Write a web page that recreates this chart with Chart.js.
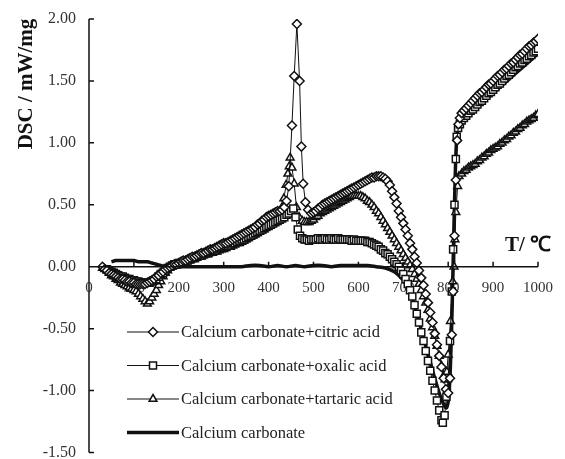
<!DOCTYPE html>
<html>
<head>
<meta charset="utf-8">
<script src="https://cdn.jsdelivr.net/npm/chart.js@4.4.0/dist/chart.umd.min.js"></script>
<style>
  body { margin: 0; background: #fff; }
  #wrap { width: 565px; height: 459px; }
</style>
</head>
<body>
<div id="wrap"><canvas id="dsc" width="565" height="459"></canvas></div>
<script>
// Valores: [T em °C, DSC em mW/mg]
const citric = [[30,0.00],[35,-0.02],[40,-0.03],[45,-0.05],[50,-0.06],[55,-0.07],[60,-0.08],[65,-0.09],[70,-0.10],[75,-0.10],[80,-0.11],[85,-0.12],[90,-0.12],[95,-0.13],[100,-0.13],[105,-0.14],[110,-0.14],[115,-0.14],[120,-0.14],[125,-0.14],[130,-0.13],[135,-0.12],[140,-0.11],[145,-0.10],[150,-0.08],[155,-0.07],[160,-0.05],[165,-0.04],[170,-0.02],[175,-0.01],[180,0.00],[185,0.01],[190,0.02],[195,0.02],[200,0.03],[205,0.04],[210,0.05],[215,0.05],[220,0.06],[225,0.07],[230,0.08],[235,0.08],[240,0.09],[245,0.10],[250,0.11],[255,0.11],[260,0.12],[265,0.13],[270,0.14],[275,0.14],[280,0.15],[285,0.16],[290,0.17],[295,0.18],[300,0.19],[305,0.19],[310,0.20],[315,0.21],[320,0.22],[325,0.23],[330,0.24],[335,0.25],[340,0.26],[345,0.27],[350,0.28],[355,0.29],[360,0.30],[365,0.31],[370,0.32],[375,0.34],[380,0.35],[385,0.37],[390,0.38],[395,0.40],[400,0.41],[405,0.42],[410,0.43],[415,0.44],[420,0.45],[425,0.45],[430,0.46],[435,0.48],[440,0.53],[445,0.65],[452,1.14],[457,1.54],[463,1.96],[469,1.50],[473,0.97],[477,0.67],[482,0.52],[488,0.46],[495,0.43],[500,0.44],[505,0.45],[510,0.47],[515,0.48],[520,0.50],[525,0.51],[530,0.52],[535,0.53],[540,0.54],[545,0.55],[550,0.56],[555,0.57],[560,0.58],[565,0.59],[570,0.60],[575,0.61],[580,0.62],[585,0.63],[590,0.64],[595,0.65],[600,0.66],[605,0.67],[610,0.68],[615,0.69],[620,0.70],[625,0.71],[630,0.72],[635,0.72],[640,0.73],[645,0.73],[650,0.73],[655,0.72],[660,0.71],[665,0.69],[670,0.66],[675,0.61],[680,0.56],[685,0.51],[690,0.45],[695,0.40],[700,0.35],[705,0.30],[710,0.25],[715,0.19],[720,0.14],[725,0.08],[730,0.03],[735,-0.03],[740,-0.09],[745,-0.15],[750,-0.22],[755,-0.29],[760,-0.37],[765,-0.45],[770,-0.54],[775,-0.63],[780,-0.72],[785,-0.81],[790,-0.90],[795,-0.99],[800,-1.02],[804,-0.90],[808,-0.55],[811,-0.20],[814,0.25],[817,0.70],[820,1.02],[823,1.15],[826,1.20],[830,1.24],[835,1.26],[840,1.28],[845,1.30],[850,1.32],[855,1.34],[860,1.36],[865,1.38],[870,1.40],[875,1.41],[880,1.43],[885,1.45],[890,1.47],[895,1.48],[900,1.50],[905,1.52],[910,1.54],[915,1.55],[920,1.57],[925,1.59],[930,1.60],[935,1.62],[940,1.64],[945,1.65],[950,1.67],[955,1.69],[960,1.71],[965,1.72],[970,1.74],[975,1.76],[980,1.78],[985,1.79],[990,1.81],[995,1.82],[1000,1.84]];

const oxalic = [[40,-0.02],[45,-0.03],[50,-0.04],[55,-0.05],[60,-0.06],[65,-0.07],[70,-0.08],[75,-0.08],[80,-0.09],[85,-0.10],[90,-0.10],[95,-0.11],[100,-0.11],[105,-0.12],[110,-0.12],[115,-0.13],[120,-0.13],[125,-0.13],[130,-0.13],[135,-0.13],[140,-0.12],[145,-0.11],[150,-0.10],[155,-0.08],[160,-0.06],[165,-0.05],[170,-0.03],[175,-0.01],[180,0.00],[185,0.01],[190,0.02],[195,0.02],[200,0.03],[205,0.03],[210,0.04],[215,0.05],[220,0.05],[225,0.06],[230,0.07],[235,0.07],[240,0.08],[245,0.09],[250,0.09],[255,0.10],[260,0.11],[265,0.11],[270,0.12],[275,0.13],[280,0.13],[285,0.14],[290,0.15],[295,0.15],[300,0.16],[305,0.17],[310,0.17],[315,0.18],[320,0.19],[325,0.19],[330,0.20],[335,0.21],[340,0.22],[345,0.22],[350,0.23],[355,0.24],[360,0.25],[365,0.26],[370,0.27],[375,0.28],[380,0.29],[385,0.30],[390,0.31],[395,0.32],[400,0.33],[405,0.34],[410,0.35],[415,0.36],[420,0.37],[425,0.38],[430,0.39],[435,0.40],[440,0.42],[445,0.43],[450,0.45],[455,0.47],[460,0.40],[465,0.30],[470,0.25],[475,0.23],[480,0.22],[485,0.22],[490,0.21],[495,0.22],[500,0.22],[505,0.22],[510,0.23],[515,0.22],[520,0.22],[525,0.23],[530,0.22],[535,0.22],[540,0.23],[545,0.22],[550,0.22],[555,0.23],[560,0.22],[565,0.22],[570,0.22],[575,0.22],[580,0.22],[585,0.21],[590,0.22],[595,0.21],[600,0.21],[605,0.21],[610,0.21],[615,0.21],[620,0.20],[625,0.20],[630,0.19],[635,0.18],[640,0.17],[645,0.16],[650,0.14],[655,0.13],[660,0.11],[665,0.10],[670,0.08],[675,0.06],[680,0.04],[685,0.02],[690,0.00],[695,-0.03],[700,-0.06],[705,-0.10],[710,-0.14],[715,-0.19],[720,-0.24],[725,-0.31],[730,-0.38],[735,-0.45],[740,-0.53],[745,-0.60],[750,-0.68],[755,-0.76],[760,-0.84],[765,-0.92],[770,-1.00],[775,-1.08],[780,-1.16],[785,-1.24],[788,-1.26],[792,-1.20],[796,-1.05],[800,-0.90],[804,-0.60],[808,-0.20],[811,0.14],[814,0.50],[817,0.87],[819,1.05],[822,1.12],[826,1.15],[830,1.18],[835,1.20],[840,1.22],[845,1.24],[850,1.26],[855,1.27],[860,1.29],[865,1.31],[870,1.33],[875,1.34],[880,1.36],[885,1.38],[890,1.40],[895,1.41],[900,1.43],[905,1.45],[910,1.47],[915,1.48],[920,1.50],[925,1.52],[930,1.54],[935,1.55],[940,1.57],[945,1.59],[950,1.61],[955,1.62],[960,1.64],[965,1.65],[970,1.67],[975,1.68],[980,1.70],[985,1.71],[990,1.73],[995,1.74],[1000,1.76]];

const tartaric = [[30,-0.01],[35,-0.02],[40,-0.03],[45,-0.05],[50,-0.07],[55,-0.08],[60,-0.10],[65,-0.11],[70,-0.13],[75,-0.14],[80,-0.15],[85,-0.16],[90,-0.17],[95,-0.18],[100,-0.19],[105,-0.20],[110,-0.22],[115,-0.24],[120,-0.26],[125,-0.28],[130,-0.30],[135,-0.28],[140,-0.25],[145,-0.22],[150,-0.19],[155,-0.15],[160,-0.12],[165,-0.08],[170,-0.05],[175,-0.03],[180,-0.01],[185,0.00],[190,0.01],[195,0.01],[200,0.02],[205,0.02],[210,0.03],[215,0.04],[220,0.05],[225,0.05],[230,0.06],[235,0.06],[240,0.07],[245,0.08],[250,0.08],[255,0.09],[260,0.10],[265,0.10],[270,0.11],[275,0.11],[280,0.12],[285,0.12],[290,0.13],[295,0.14],[300,0.14],[305,0.15],[310,0.16],[315,0.16],[320,0.17],[325,0.18],[330,0.19],[335,0.19],[340,0.20],[345,0.21],[350,0.22],[355,0.23],[360,0.24],[365,0.25],[370,0.26],[375,0.27],[380,0.28],[385,0.29],[390,0.30],[395,0.32],[400,0.33],[405,0.34],[410,0.36],[415,0.38],[420,0.40],[425,0.43],[430,0.48],[434,0.55],[439,0.66],[443,0.75],[446,0.81],[448,0.88],[452,0.80],[457,0.67],[462,0.48],[468,0.40],[475,0.37],[480,0.36],[485,0.36],[490,0.36],[495,0.37],[500,0.38],[505,0.40],[510,0.41],[515,0.43],[520,0.44],[525,0.45],[530,0.46],[535,0.47],[540,0.48],[545,0.49],[550,0.50],[555,0.51],[560,0.52],[565,0.53],[570,0.54],[575,0.55],[580,0.56],[585,0.57],[590,0.57],[595,0.57],[600,0.57],[605,0.57],[610,0.56],[615,0.55],[620,0.53],[625,0.52],[630,0.50],[635,0.48],[640,0.45],[645,0.43],[650,0.40],[655,0.37],[660,0.34],[665,0.31],[670,0.28],[675,0.25],[680,0.22],[685,0.19],[690,0.16],[695,0.13],[700,0.10],[705,0.07],[710,0.04],[715,0.01],[720,-0.02],[725,-0.06],[730,-0.10],[735,-0.14],[740,-0.19],[745,-0.24],[750,-0.29],[755,-0.35],[760,-0.42],[765,-0.49],[770,-0.56],[775,-0.64],[780,-0.72],[785,-0.80],[790,-0.88],[793,-0.91],[797,-0.85],[800,-0.71],[805,-0.44],[810,-0.12],[813,0.00],[815,0.22],[817,0.44],[821,0.65],[824,0.73],[830,0.75],[835,0.77],[840,0.78],[845,0.80],[850,0.81],[855,0.82],[860,0.83],[865,0.85],[870,0.86],[875,0.88],[880,0.89],[885,0.91],[890,0.92],[895,0.94],[900,0.95],[905,0.96],[910,0.97],[915,0.99],[920,1.00],[925,1.02],[930,1.03],[935,1.05],[940,1.06],[945,1.08],[950,1.09],[955,1.11],[960,1.12],[965,1.14],[970,1.15],[975,1.17],[980,1.18],[985,1.19],[990,1.20],[995,1.22],[1000,1.23]];

const carbonate = [[50,0.04],[60,0.05],[70,0.05],[80,0.05],[90,0.05],[100,0.05],[110,0.04],[120,0.04],[130,0.04],[140,0.03],[150,0.02],[160,0.01],[170,0.00],[180,0.00],[200,0.00],[220,0.00],[240,0.00],[260,0.00],[280,0.00],[300,0.00],[320,0.00],[340,0.00],[360,0.01],[380,0.01],[400,0.00],[420,0.01],[440,0.00],[460,0.01],[480,0.00],[500,0.01],[520,0.01],[540,0.00],[560,0.01],[580,0.01],[600,0.01],[620,0.01],[640,0.00],[660,-0.01],[680,-0.04],[690,-0.07],[700,-0.11],[710,-0.17],[720,-0.26],[730,-0.38],[740,-0.51],[750,-0.64],[760,-0.77],[770,-0.90],[780,-1.02],[790,-1.11],[796,-1.14],[801,-1.06],[805,-0.80],[809,-0.30],[812,0.20],[815,0.65],[818,0.98],[821,1.10],[826,1.14],[830,1.16],[850,1.23],[900,1.40],[950,1.56],[1000,1.72]];

const seriesLabels = [
  'Calcium carbonate+citric acid',
  'Calcium carbonate+oxalic acid',
  'Calcium carbonate+tartaric acid',
  'Calcium carbonate'
];
const xTickStep = 100;
const yTickStep = 0.5;

const pontos = arr => arr.map(p => ({ x: p[0], y: p[1] }));

const SERIF = "'Liberation Serif', 'Times New Roman', serif";
Chart.defaults.font.family = SERIF;

function marcador(ctx, estilo, x, y) {
    ctx.save();
    ctx.fillStyle = '#fff';
    ctx.strokeStyle = '#111';
    ctx.lineWidth = 1.5;
    ctx.beginPath();
    if (estilo === 'rectRot') {
        const r = 4.5;
        ctx.moveTo(x, y - r); ctx.lineTo(x + r, y); ctx.lineTo(x, y + r); ctx.lineTo(x - r, y);
    } else if (estilo === 'rect') {
        ctx.rect(x - 3.5, y - 3.5, 7, 7);
    } else if (estilo === 'triangle') {
        ctx.moveTo(x, y - 4.5); ctx.lineTo(x + 3.9, y + 2.25); ctx.lineTo(x - 3.9, y + 2.25);
    }
    ctx.closePath();
    ctx.fill();
    ctx.stroke();
    ctx.restore();
}

// eixos, marcas, títulos e legenda desenhados à mão
const extras = {
    id: 'extras',
    afterDraw(chart) {
        const ctx = chart.ctx;
        const sx = chart.scales.x, sy = chart.scales.y;
        const x0 = sx.getPixelForValue(0), x1 = sx.getPixelForValue(1000);
        const yTop = sy.getPixelForValue(2), yBot = sy.getPixelForValue(-1.5), yZero = sy.getPixelForValue(0);

        ctx.save();
        ctx.strokeStyle = '#111';
        ctx.lineWidth = 1.5;
        ctx.beginPath();
        ctx.moveTo(x0, yTop); ctx.lineTo(x0, yBot);
        ctx.moveTo(x0, yZero); ctx.lineTo(x1, yZero);
        sy.ticks.forEach(t => {
            const p = sy.getPixelForValue(t.value);
            ctx.moveTo(x0, p); ctx.lineTo(x0 + 5, p);
        });
        sx.ticks.forEach(t => {
            if (t.value === 0) return;
            const p = sx.getPixelForValue(t.value);
            ctx.moveTo(p, yZero); ctx.lineTo(p, yZero - 5);
        });
        ctx.stroke();

        // título do eixo y
        ctx.fillStyle = '#111';
        ctx.font = 'bold 21px ' + SERIF;
        ctx.translate(27, 84);
        ctx.rotate(-Math.PI / 2);
        ctx.textAlign = 'center';
        ctx.textBaseline = 'middle';
        ctx.fillText('DSC / mW/mg', 0, 0);
        ctx.restore();

        ctx.save();
        ctx.fillStyle = '#111';
        ctx.font = 'bold 21px ' + SERIF;
        ctx.textAlign = 'right';
        ctx.textBaseline = 'middle';
        ctx.fillText('T/ \u2103', 551, 246);
        ctx.restore();

        // legenda
        ctx.save();
        chart.data.datasets.forEach((ds, i) => {
            const ly = 332 + i * 33.5;
            ctx.strokeStyle = '#111';
            ctx.lineWidth = ds.borderWidth;
            ctx.beginPath();
            ctx.moveTo(127, ly); ctx.lineTo(179, ly);
            ctx.stroke();
            if (ds.pointRadius > 0) marcador(ctx, ds.pointStyle, 153, ly);
            ctx.fillStyle = '#222';
            ctx.font = '16.5px ' + SERIF;
            ctx.textAlign = 'left';
            ctx.textBaseline = 'middle';
            ctx.fillText(ds.label, 181, ly + 1);
        });
        ctx.restore();
    }
};

function serieMarcada(label, dados, estilo, raio) {
    return {
        label: label,
        data: dados,
        borderColor: '#111',
        borderWidth: 1,
        backgroundColor: '#fff',
        pointStyle: estilo,
        pointRadius: raio,
        pointBorderWidth: 1.5,
        pointBorderColor: '#111',
        pointBackgroundColor: '#fff',
        tension: 0
    };
}

new Chart(document.getElementById('dsc'), {
    type: 'line',
    data: {
        datasets: [
            serieMarcada(seriesLabels[0], pontos(citric), 'rectRot', 4.5),
            serieMarcada(seriesLabels[1], pontos(oxalic), 'rect', 5),
            serieMarcada(seriesLabels[2], pontos(tartaric), 'triangle', 4.5),
            {
                label: seriesLabels[3],
                data: pontos(carbonate),
                borderColor: '#111',
                borderWidth: 3.5,
                pointRadius: 0,
                tension: 0.3
            }
        ]
    },
    options: {
        responsive: false,
        animation: false,
        devicePixelRatio: 1,
        layout: { padding: { top: 19, right: 16, bottom: 4, left: 0 } },
        plugins: { legend: { display: false }, tooltip: { enabled: false } },
        scales: {
            x: {
                type: 'linear',
                min: 0,
                max: 1000,
                position: { y: 0 },
                grid: { display: false, drawTicks: false },
                border: { display: false },
                ticks: { stepSize: xTickStep, padding: 12, color: '#333', font: { size: 15 }, maxRotation: 0, autoSkip: false, callback: v => String(v) },
                afterFit: s => { s.height = 0; }
            },
            y: {
                type: 'linear',
                min: -1.5,
                max: 2,
                grid: { display: false, drawTicks: false },
                border: { display: false },
                ticks: { stepSize: yTickStep, padding: 13, color: '#333', font: { size: 16 }, callback: v => v.toFixed(2) },
                afterFit: s => { s.width = 89; s.paddingTop = 0; s.paddingBottom = 0; }
            }
        }
    },
    plugins: [extras]
});
</script>
</body>
</html>
